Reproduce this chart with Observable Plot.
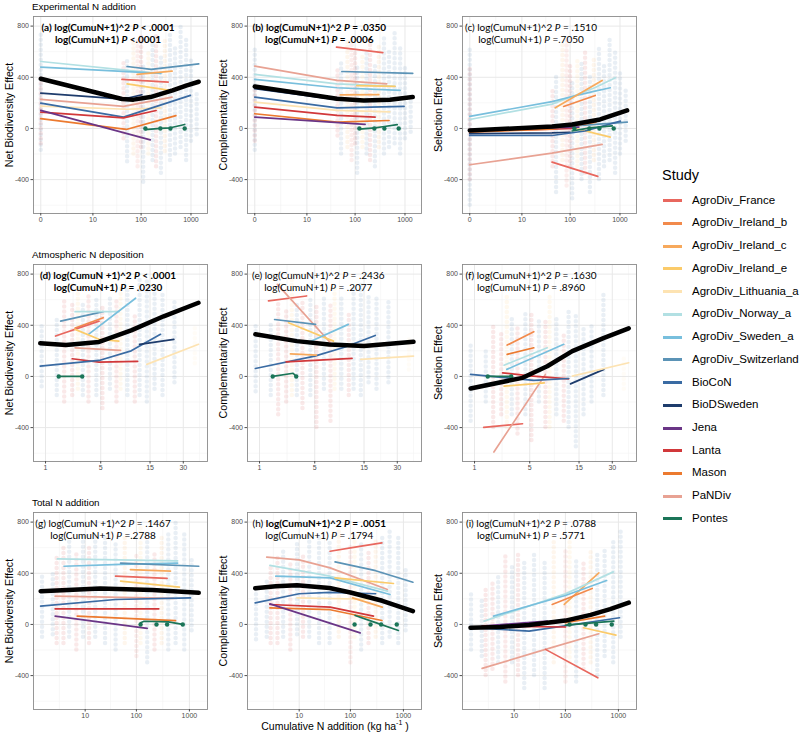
<!DOCTYPE html>
<html><head><meta charset="utf-8">
<script src="https://cdn.jsdelivr.net/npm/d3@7"></script>
<script src="https://cdn.jsdelivr.net/npm/@observablehq/plot@0.6"></script>
<style>
body{margin:0;background:#fff;}
#chart{position:relative;width:800px;height:736px;overflow:hidden;font-family:"Liberation Sans",Arial,sans-serif;color:#000;}
.abs{position:absolute;white-space:nowrap;line-height:1;}
.ann{font-family:Lato,"Noto Sans",sans-serif;font-size:10px;transform:translate(-50%,-50%);}
.ann b{font-weight:700;}
.ytitle{font-size:10.7px;transform:translate(-50%,-50%) rotate(-90deg);}
.rowtitle{font-size:9.8px;transform:translateY(-50%);}
.panel{position:absolute;}
.leg-key{position:absolute;height:3px;width:19px;}
.leg-lab{font-size:11.5px;transform:translateY(-50%);}
</style></head>
<body><div id="chart"></div>
<script>
// ---------- categories ----------
const studies = ["AgroDiv_France","AgroDiv_Ireland_b","AgroDiv_Ireland_c","AgroDiv_Ireland_e","AgroDiv_Lithuania_a","AgroDiv_Norway_a","AgroDiv_Sweden_a","AgroDiv_Switzerland","BioCoN","BioDSweden","Jena","Lanta","Mason","PaNDiv","Pontes"];
const studyColors = ["#E8675E","#F28A4C","#F7A95C","#FBCB6A","#FDE3B2","#B2E0E3","#78BFDD","#5B93B6","#3A6BA3","#1E3C6C","#6A3586","#D1383A","#EC7A2F","#E8A293","#1B7558"];
const rowTitles = ["Experimental N addition","Atmospheric N deposition","Total N addition"];
const effectTitles = ["Net Biodiversity Effect","Complementarity Effect","Selection Effect"];
const xTitle = "Cumulative N addition (kg ha<sup style='font-size:7px'>-1</sup> )";

// ---------- tick labels ----------
const yTicks = [-400,0,400,800];
const yMinor = [-600,-200,200,600];
const xTicksRow1 = [0,10,100,1000];
const xTicksRow2 = [1,5,15,30];
const xTicksRow3 = [10,100,1000];
const xMinorRow1 = [2.3,32,315];
const xMinorRow2 = [2.46,8.8,21.3,41.9];
const xMinorRow3 = [2.6,32,315];
const xDomainRow1 = [-0.396,2140];
const xDomainRow2 = [0.574,49.2];
const xDomainRow3 = [0.175,2190];
const yDomain = [-665,875];

// ---------- annotations ----------
const annLabel = ["(a)","(b)","(c)","(d)","(e)","(f)","(g)","(h)","(i)"];
const annLine1 = ["log(CumuN+1)^2 <i>P</i> < .0001","log(CumuN+1)^2 <i>P</i> = .0350","log(CumuN+1)^2 <i>P</i> = .1510",
  "log(CumuN +1)^2 <i>P</i> < .0001","log(CumuN+1)^2 <i>P</i> = .2436","log(CumuN+1)^2 <i>P</i> = .1630",
  "log(CumuN +1)^2 <i>P</i> = .1467","log(CumuN+1)^2 <i>P</i> = .0051","log(CumuN+1)^2 <i>P</i> = .0788"];
const annLine2 = ["log(CumuN+1) <i>P</i> <.0001","log(CumuN+1) <i>P</i> = .0006","log(CumuN+1) <i>P</i> =.7050",
  "log(CumuN+1) <i>P</i> = .0230","log(CumuN+1) <i>P</i> = .2077","log(CumuN+1) <i>P</i> = .8960",
  "log(CumuN+1) <i>P</i> =.2788","log(CumuN+1) <i>P</i> = .1794","log(CumuN+1) <i>P</i> = .5771"];
const annBoldLabel = [1,1,0,1,0,0,0,0,0];
const annBoldLine1 = [1,1,0,1,0,0,0,1,0];
const annBoldLine2 = [1,1,0,1,0,0,0,0,0];

// ---------- scatter columns (N, study) per row; (low, high) per panel ----------
const scatterRow1N = [0,0,44,52,70,85,100,110,140,170,200,250,300,380,480,620,800,1000,1300];
const scatterRow1Study = ["BioCoN","Lanta","Lanta","BioCoN","AgroDiv_Ireland_c","AgroDiv_France","Lanta","BioCoN","AgroDiv_Ireland_e","BioCoN","Lanta","BioCoN","AgroDiv_Ireland_c","BioCoN","BioCoN","BioCoN","BioCoN","BioCoN","BioCoN"];
const scatterA = [[-170,760],[-120,420],[-80,520],[-260,560],[-200,680],[-300,700],[-150,740],[-420,500],[-200,620],[-250,650],[-300,720],[-350,560],[-180,700],[-250,760],[-200,650],[-150,800],[-250,700],[-100,560],[-50,300]];
const scatterB = [[-170,640],[-100,300],[-60,480],[-200,520],[-150,700],[-250,650],[-120,600],[-350,480],[-150,580],[-200,600],[-250,700],[-300,520],[-150,650],[-200,700],[-150,600],[-120,750],[-200,650],[-80,500],[-30,280]];
const scatterC = [[-600,640],[-400,480],[-300,300],[-500,400],[-250,650],[-450,700],[-300,500],[-550,350],[-300,550],[-400,500],[-350,600],[-500,400],[-250,560],[-400,650],[-300,520],[-250,700],[-350,600],[-200,450],[-100,300]];

const scatterRow2N = [0.85,1.5,1.9,2.4,2.8,3.2,3.7,4.5,5.2,6.2,7.2,7.9,9.2,10.8,12,14,16.5,19.5,25,38];
const scatterRow2Study = ["BioCoN","BioCoN","Lanta","Lanta","AgroDiv_Ireland_e","BioCoN","Lanta","BioCoN","Lanta","BioCoN","Lanta","AgroDiv_Ireland_e","BioCoN","Lanta","BioCoN","BioCoN","BioCoN","BioCoN","BioCoN","AgroDiv_Lithuania_a"];
const scatterD = [[-80,420],[-150,460],[-200,600],[-150,560],[-100,700],[-150,560],[-200,640],[-150,600],[-250,560],[-100,640],[-200,600],[-100,720],[-150,700],[-200,500],[-150,760],[-200,760],[-100,700],[-150,650],[-50,600],[100,400]];
const scatterE = [[-120,400],[-150,420],[-300,560],[-200,520],[-150,760],[-150,560],[-250,600],[-150,620],[-400,560],[-100,640],[-350,560],[-100,700],[-100,620],[-150,480],[-100,700],[-150,720],[-50,650],[-100,640],[-50,600],[50,300]];
const scatterF = [[-350,250],[-200,200],[-400,400],[-300,350],[-400,650],[-300,450],[-450,400],[-300,500],[-500,500],[-200,450],[-400,450],[-400,650],[-300,450],[-350,350],[-400,500],[-550,500],[-300,400],[-200,400],[-150,650],[-100,150]];

const scatterRow3N = [0.7,1.7,2.2,3.3,4.5,6.5,9,12,16,25,40,60,100,120,160,220,300,400,550,800,1100];
const scatterRow3Study = ["BioCoN","BioCoN","Lanta","Lanta","BioCoN","Lanta","BioCoN","Lanta","BioCoN","BioCoN","BioCoN","AgroDiv_Ireland_c","AgroDiv_France","AgroDiv_Ireland_e","BioCoN","Lanta","AgroDiv_Ireland_c","BioCoN","BioCoN","BioCoN","BioCoN"];
const scatterG = [[-100,400],[-80,400],[-150,520],[-150,600],[-100,650],[-200,560],[-100,700],[-150,600],[-100,720],[-150,700],[-200,650],[-150,700],[-250,560],[-150,750],[-300,640],[-200,560],[-150,700],[-200,700],[-150,800],[-200,720],[-50,500]];
const scatterH = [[-120,300],[-100,350],[-150,450],[-150,520],[-100,600],[-200,480],[-80,650],[-100,560],[-100,700],[-150,700],[-150,650],[-100,750],[-300,600],[-100,700],[-200,640],[-150,560],[-100,650],[-150,700],[-100,750],[-150,700],[-50,450]];
const scatterI = [[-200,250],[-250,200],[-400,300],[-350,350],[-300,400],[-450,550],[-300,450],[-400,560],[-500,500],[-400,550],[-500,500],[-300,650],[-450,600],[-300,700],[-450,500],[-350,500],[-300,560],[-400,550],[-250,600],[-300,650],[-100,750]];

// Pontes observed N values (dots at effect 0)
const pontesRow1N = [122,244,388,749];
const pontesRow2N = [1.6,3.15];
const pontesRow3N = [120,240,380,750];
const pontesY = 0;

// ---------- study fits per panel: [study, [[N, effect], ...]] ----------
const fitsA = [
 ["AgroDiv_Norway_a",[[0,523],[195,432]]],
 ["AgroDiv_Sweden_a",[[0,479],[250,430]]],
 ["AgroDiv_Switzerland",[[52,484],[160,461],[1430,505]]],
 ["AgroDiv_Ireland_c",[[83,422],[420,448]]],
 ["AgroDiv_France",[[41,383],[350,362]]],
 ["AgroDiv_Ireland_e",[[52,349],[380,297]]],
 ["AgroDiv_Lithuania_a",[[0,175],[52,150],[250,160]]],
 ["PaNDiv",[[0,227],[44,172],[418,245]]],
 ["BioDSweden",[[0,276],[44,229],[104,263]]],
 ["BioCoN",[[0,198],[44,88],[974,258]]],
 ["Lanta",[[0,128],[44,82],[200,140]]],
 ["Mason",[[0,76],[50,-8],[500,100]]],
 ["Jena",[[0,141],[153,-89]]],
 ["Pontes",[[122,-10],[244,0],[388,5],[749,31]]]
];
const overallA = [[0,388],[41,230],[70,225],[154,245],[430,297],[800,335],[1430,365]];

const fitsB = [
 ["AgroDiv_France",[[42,635],[360,592]]],
 ["AgroDiv_Switzerland",[[54,445],[1430,430]]],
 ["PaNDiv",[[0,487],[43,375],[433,349]]],
 ["AgroDiv_Norway_a",[[0,422],[43,349],[634,328]]],
 ["AgroDiv_Sweden_a",[[0,383],[43,318],[800,297]]],
 ["AgroDiv_Ireland_e",[[108,335],[634,328]]],
 ["AgroDiv_Ireland_c",[[50,262],[300,265]]],
 ["AgroDiv_Lithuania_a",[[0,206],[43,141],[500,130]]],
 ["BioDSweden",[[0,310],[43,224],[108,219]]],
 ["BioCoN",[[0,245],[43,161],[960,172]]],
 ["Lanta",[[0,167],[43,102],[253,88]]],
 ["Mason",[[0,115],[43,49],[480,62]]],
 ["Jena",[[0,88],[159,31]]],
 ["Pontes",[[122,-5],[250,5],[388,15],[700,30]]]
];
const overallB = [[0,328],[43,232],[150,219],[500,225],[1430,245]];

const fitsC = [
 ["AgroDiv_Norway_a",[[0,70],[43,190],[110,250],[320,320],[810,396]]],
 ["AgroDiv_Sweden_a",[[0,94],[43,210],[110,250],[300,290],[640,318]]],
 ["AgroDiv_Ireland_c",[[50,161],[440,375]]],
 ["AgroDiv_Ireland_b",[[74,172],[320,258]]],
 ["AgroDiv_Ireland_e",[[74,23],[640,-68]]],
 ["AgroDiv_Switzerland",[[54,10],[1400,50]]],
 ["AgroDiv_France",[[43,-263],[360,-375]]],
 ["PaNDiv",[[0,-284],[43,-193],[440,-125]]],
 ["BioDSweden",[[0,-40],[43,-35],[100,-30]]],
 ["BioCoN",[[0,-55],[43,-55],[200,-20],[1020,57]]],
 ["Lanta",[[0,-20],[43,-5],[110,0]]],
 ["Mason",[[0,-29],[43,-5],[330,49]]],
 ["Jena",[[0,-10],[150,10]]],
 ["Pontes",[[110,-20],[250,5],[700,20]]]
];
const overallC = [[0,-16],[43,15],[110,31],[400,70],[800,110],[1390,141]];

const fitsD = [
 ["AgroDiv_Switzerland",[[1.7,432],[5.3,506]]],
 ["AgroDiv_Norway_a",[[2.6,506],[7.6,506]]],
 ["AgroDiv_Sweden_a",[[3.7,329],[11,611]]],
 ["AgroDiv_Ireland_b",[[2.6,378],[5.3,459]]],
 ["AgroDiv_France",[[1.44,316],[4.8,432]]],
 ["AgroDiv_Ireland_e",[[2.6,368],[4.8,290],[7.6,276]]],
 ["PaNDiv",[[2.6,224],[7.9,203]]],
 ["Lanta",[[2.4,138],[4.8,112],[11.5,117]]],
 ["BioCoN",[[0.8,81],[4.8,125],[10,200],[18.7,329]]],
 ["BioDSweden",[[12,251],[24.7,290]]],
 ["AgroDiv_Lithuania_a",[[14,94],[41,251]]],
 ["Pontes",[[1.6,0],[3.15,0]]]
];
const overallD = [[0.8,260],[2,245],[4.8,270],[10,360],[20,470],[41,576]];

const fitsE = [
 ["AgroDiv_France",[[1.39,590],[4.1,629]]],
 ["PaNDiv",[[1.85,720],[7.2,263]]],
 ["AgroDiv_Switzerland",[[1.7,445],[5.1,407]]],
 ["AgroDiv_Ireland_e",[[2.56,419],[7.7,276]]],
 ["AgroDiv_Sweden_a",[[4.1,260],[10.7,407]]],
 ["BioCoN",[[0.84,62],[5,159],[10,230],[19,320]]],
 ["AgroDiv_Ireland_c",[[2.7,177],[5.2,167]]],
 ["Lanta",[[2.4,114],[11.6,141]]],
 ["AgroDiv_Lithuania_a",[[14,133],[41.8,159]]],
 ["Pontes",[[1.6,0],[2.9,25],[3.15,0]]]
];
const overallE = [[0.84,329],[3.2,276],[7,250],[15,237],[41.8,271]];

const fitsF = [
 ["AgroDiv_Ireland_b",[[2.83,245],[5.5,350]]],
 ["Mason",[[2.83,172],[5.5,224]]],
 ["AgroDiv_Norway_a",[[2.6,88],[7.5,224]]],
 ["AgroDiv_Sweden_a",[[2.8,55],[10.8,251]]],
 ["AgroDiv_France",[[1.4,-398],[4.2,-370]]],
 ["PaNDiv",[[1.94,-591],[7.2,16]]],
 ["Lanta",[[2.5,28],[5,5],[12,-19]]],
 ["BioCoN",[[0.85,16],[5.5,-31],[12,-16]]],
 ["BioDSweden",[[12.5,-58],[25.2,55]]],
 ["AgroDiv_Lithuania_a",[[13,2],[42,107]]],
 ["AgroDiv_Ireland_e",[[2.6,-76],[7,-50]]],
 ["Pontes",[[1.57,0],[3.15,0]]]
];
const overallF = [[0.85,-94],[4.2,-11],[7.5,80],[13,198],[25,300],[42,376]];

const fitsG = [
 ["AgroDiv_Norway_a",[[2.3,512],[600,497]]],
 ["AgroDiv_Sweden_a",[[3.4,455],[50,470],[600,480]]],
 ["AgroDiv_Switzerland",[[50,480],[1500,455]]],
 ["AgroDiv_Ireland_c",[[77,429],[440,416]]],
 ["AgroDiv_France",[[40,377],[380,360]]],
 ["AgroDiv_Ireland_e",[[50,338],[650,291]]],
 ["PaNDiv",[[2,221],[500,203]]],
 ["BioCoN",[[0.6,143],[40,195],[1050,208]]],
 ["Lanta",[[2,122],[265,122]]],
 ["Mason",[[6.8,65],[550,30]]],
 ["Jena",[[2,65],[160,-31]]],
 ["Pontes",[[120,13],[140,25],[400,20],[750,0]]]
];
const overallG = [[0.6,260],[20,281],[200,270],[1500,247]];

const fitsH = [
 ["AgroDiv_France",[[41,572],[150,610],[394,637]]],
 ["PaNDiv",[[1.7,526],[10,505],[41,442],[500,273]]],
 ["AgroDiv_Switzerland",[[51,489],[300,420],[1510,330]]],
 ["AgroDiv_Norway_a",[[2.1,461],[41,377],[500,260]]],
 ["AgroDiv_Sweden_a",[[3,377],[41,364],[560,234]]],
 ["AgroDiv_Ireland_e",[[51,364],[650,320]]],
 ["BioCoN",[[0.64,169],[10,240],[41,250],[300,240]]],
 ["AgroDiv_Lithuania_a",[[9,208],[400,195]]],
 ["AgroDiv_Ireland_c",[[110,208],[400,135]]],
 ["Lanta",[[2.1,156],[41,135],[273,65]]],
 ["Mason",[[2.1,130],[41,115],[394,31]]],
 ["Jena",[[2.1,161],[153,-66]]],
 ["Pontes",[[123,70],[273,20],[808,-47]]]
];
const overallH = [[0.64,282],[3,298],[9,307],[40,285],[100,250],[400,185],[1510,104]];

const fitsI = [
 ["AgroDiv_Ireland_c",[[95,156],[428,403]]],
 ["AgroDiv_Norway_a",[[2,26],[100,239],[800,411]]],
 ["AgroDiv_Sweden_a",[[3.5,65],[100,226],[600,343]]],
 ["AgroDiv_Ireland_b",[[56,156],[321,281]]],
 ["Mason",[[100,13],[550,65]]],
 ["AgroDiv_Ireland_e",[[220,-26],[900,-83]]],
 ["BioCoN",[[0.66,-26],[20,-52],[1050,52]]],
 ["Jena",[[1.75,-13],[45,26]]],
 ["Lanta",[[1.75,-13],[100,-20]]],
 ["Pontes",[[100,-5],[820,26]]],
 ["PaNDiv",[[1.75,-344],[41.6,-195],[428,-73]]],
 ["AgroDiv_France",[[41.6,-195],[410,-417]]]
];
const overallI = [[0.66,-26],[5,-20],[20,-5],[100,30],[300,75],[700,120],[1570,170]];

// ---------- assembly ----------
const rows = [
 {ticks:xTicksRow1, minor:xMinorRow1, domain:xDomainRow1, n:scatterRow1N, st:scatterRow1Study, pontes:pontesRow1N},
 {ticks:xTicksRow2, minor:xMinorRow2, domain:xDomainRow2, n:scatterRow2N, st:scatterRow2Study, pontes:pontesRow2N},
 {ticks:xTicksRow3, minor:xMinorRow3, domain:xDomainRow3, n:scatterRow3N, st:scatterRow3Study, pontes:pontesRow3N}
];
const panels = [
 {fits:fitsA, overall:overallA, scatter:scatterA},{fits:fitsB, overall:overallB, scatter:scatterB},{fits:fitsC, overall:overallC, scatter:scatterC},
 {fits:fitsD, overall:overallD, scatter:scatterD},{fits:fitsE, overall:overallE, scatter:scatterE},{fits:fitsF, overall:overallF, scatter:scatterF},
 {fits:fitsG, overall:overallG, scatter:scatterG},{fits:fitsH, overall:overallH, scatter:scatterH},{fits:fitsI, overall:overallI, scatter:scatterI}
];

const panelLeft = [33, 247.3, 462];
const panelTop = [16, 264.3, 512];
const PW = 174, PH = 197;
const mL = 30, mR = 4, mT = 2, mB = 16;
const annCx = [75,72,69, 75,71,69, 70,72,69];

const chart = document.getElementById("chart");
function addDiv(cls, html, x, y){
  const d = document.createElement("div");
  d.className = "abs " + cls;
  d.innerHTML = html;
  d.style.left = x + "px"; d.style.top = y + "px";
  chart.appendChild(d);
  return d;
}

panels.forEach((p, i) => {
  const r = Math.floor(i/3), c = i % 3;
  const R = rows[r];
  const scat = R.n.map((n, k) => ({n, lo: p.scatter[k][0], hi: p.scatter[k][1], study: R.st[k]}));
  const fits = [];
  p.fits.forEach(([study, pts]) => pts.forEach(([n, y]) => fits.push({study, n, y})));
  const overall = p.overall.map(([n, y]) => ({n, y}));
  const dots = R.pontes.map(n => ({n, y: pontesY}));
  const svg = Plot.plot({
    width: PW + mL + mR, height: PH + mT + mB,
    marginLeft: mL, marginRight: mR, marginTop: mT, marginBottom: mB,
    style: {fontFamily: "'Liberation Sans', Arial, sans-serif", background: "transparent", overflow: "visible"},
    x: {type: "symlog", domain: R.domain},
    y: {domain: yDomain},
    color: {domain: studies, range: studyColors},
    marks: [
      Plot.gridY(yMinor, {stroke: "#f2f2f2", strokeOpacity: 1, strokeWidth: 0.6}),
      Plot.gridX(R.minor, {stroke: "#f2f2f2", strokeOpacity: 1, strokeWidth: 0.6}),
      Plot.gridY(yTicks, {stroke: "#e8e8e8", strokeOpacity: 1, strokeWidth: 1}),
      Plot.gridX(R.ticks, {stroke: "#e8e8e8", strokeOpacity: 1, strokeWidth: 1}),
      Plot.ruleX(scat, {x: "n", y1: "lo", y2: "hi", stroke: "study", strokeWidth: 4.5, strokeOpacity: 0.11, strokeLinecap: "round", strokeDasharray: "0,5", clip: true}),
      Plot.line(fits, {x: "n", y: "y", z: "study", stroke: "study", strokeWidth: 1.7, clip: true}),
      Plot.dot(dots, {x: "n", y: "y", r: 2.2, fill: studyColors[14]}),
      Plot.line(overall, {x: "n", y: "y", stroke: "black", strokeWidth: 4.5, clip: true}),
      Plot.frame({stroke: "#8c8c8c", strokeWidth: 0.9}),
      Plot.axisY(yTicks, {tickSize: 2.5, tickPadding: 2, fontSize: 7, color: "#4d4d4d", tickFormat: d => String(d), label: null}),
      Plot.axisX(R.ticks, {tickSize: 2.5, tickPadding: 1.5, fontSize: 7, color: "#4d4d4d", tickFormat: d => String(d), label: null})
    ]
  });
  const wrap = document.createElement("div");
  wrap.className = "panel";
  wrap.style.left = (panelLeft[c] - mL) + "px";
  wrap.style.top = (panelTop[r] - mT) + "px";
  wrap.appendChild(svg);
  chart.appendChild(wrap);

  const lab = annBoldLabel[i] ? `<b>${annLabel[i]}</b>` : annLabel[i];
  const l1 = annBoldLine1[i] ? `<b>${annLine1[i]}</b>` : annLine1[i];
  const l2 = annBoldLine2[i] ? `<b>${annLine2[i]}</b>` : annLine2[i];
  addDiv("ann", lab + " " + l1, panelLeft[c] + annCx[i], panelTop[r] + 10.5);
  addDiv("ann", l2, panelLeft[c] + annCx[i], panelTop[r] + 22.5);

  addDiv("ytitle", effectTitles[c], panelLeft[c] - 24, panelTop[r] + PH/2);
});

rowTitles.forEach((t, r) => addDiv("rowtitle", t, 32, panelTop[r] - 9.5));
const xt = addDiv("", xTitle, 335, 725);
xt.style.fontSize = "10.5px"; xt.style.transform = "translate(-50%,-50%)";

const lt = addDiv("", "Study", 662, 175);
lt.style.fontSize = "14.5px"; lt.style.transform = "translateY(-50%)";
studies.forEach((s, k) => {
  const y = 200.7 + k * 22.73;
  const key = document.createElement("div");
  key.className = "leg-key";
  key.style.left = "663px"; key.style.top = (y - 1.5) + "px";
  key.style.background = studyColors[k];
  chart.appendChild(key);
  addDiv("leg-lab", s, 692, y);
});
</script>
</body></html>
